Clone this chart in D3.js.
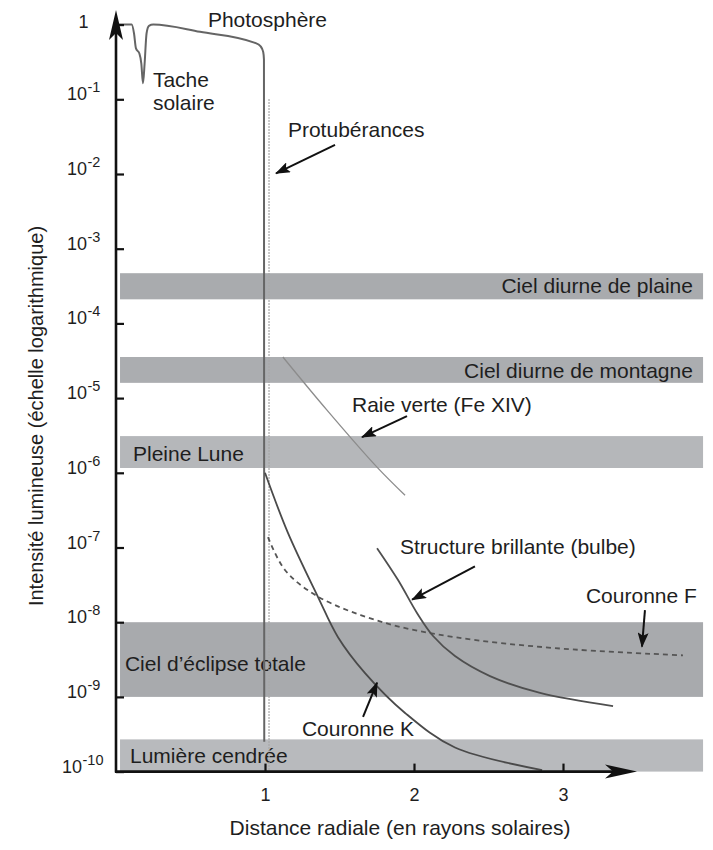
<!DOCTYPE html>
<html>
<head>
<meta charset="utf-8">
<script src="https://cdn.jsdelivr.net/npm/d3@7"></script>
<style>
  html, body { margin: 0; padding: 0; background: #fff; }
  svg { display: block; font-family: "Liberation Sans", Arial, Helvetica, sans-serif; }
</style>
</head>
<body>
<svg id="chart" width="713" height="850"></svg>
<script>
// ---------------- DATA ----------------
const xTickValues = [1, 2, 3];
const yTickExponents = [0, -1, -2, -3, -4, -5, -6, -7, -8, -9, -10];

// Photosphère (with sunspot dip)
const photoR = [0.015, 0.105, 0.121, 0.134, 0.157, 0.170, 0.181, 0.192, 0.205, 0.221, 0.25, 0.564, 0.933, 0.971, 0.988, 0.993, 0.995];
const photoI = [1.0, 1.0, 0.76, 0.48, 0.41, 0.30, 0.164, 0.30, 0.76, 0.96, 1.0, 0.80, 0.57, 0.51, 0.43, 0.34, 2.5e-10];

// Protubérances (dotted vertical)
const protR = [1.027, 1.027];
const protI = [1e-1, 1e-10];

// Couronne K
const coronaKR = [1.0, 1.154, 1.356, 1.49, 1.67, 1.94, 2.275, 2.86];
const coronaKI = [1e-6, 1.57e-7, 2.17e-8, 6.3e-9, 2.1e-9, 6.1e-10, 2.1e-10, 1.05e-10];

// Couronne F (dashed)
const coronaFR = [1.02, 1.134, 1.356, 1.805, 2.275, 2.946, 3.805];
const coronaFI = [1.38e-7, 5e-8, 2.2e-8, 9.8e-9, 6.3e-9, 4.5e-9, 3.6e-9];

// Structure brillante (bulbe)
const bulbeR = [1.752, 1.893, 2.020, 2.128, 2.275, 2.510, 2.846, 3.336];
const bulbeI = [9.8e-8, 3.67e-8, 1.33e-8, 6.53e-9, 3.52e-9, 1.9e-9, 1.13e-9, 7.55e-10];

// Raie verte (Fe XIV)
const raieR = [1.12, 1.416, 1.75, 1.94];
const raieI = [3.55e-5, 6.9e-6, 1.2e-6, 5e-7];

// Sky-brightness bands
const bandNames = ["Ciel diurne de plaine", "Ciel diurne de montagne", "Pleine Lune", "Ciel d\u2019\u00e9clipse totale", "Lumi\u00e8re cendr\u00e9e"];
const bandHigh = [4.7e-4, 3.55e-5, 3.1e-6, 1e-8, 2.7e-10];
const bandLow  = [2.1e-4, 1.6e-5, 1.16e-6, 1e-9, 1e-10];
const bandStartR = 0.027;
const bandEndR = 3.94;

// ---------------- ANNOTATIONS (data coords) ----------------
const bandLabelR = [3.872, 3.872, 0.114, 0.060, 0.094];
const bandLabelI = [Math.pow(10, -3.593), Math.pow(10, -4.731), Math.pow(10, -5.84), Math.pow(10, -8.652), Math.pow(10, -9.885)];
const bandLabelAnchor = ["end", "end", "start", "start", "start"];
const bandShade = ["#a9abae", "#abadb0", "#b5b7ba", "#a8aaad", "#b8babd"];

const labelTexts = ["Photosph\u00e8re", "Tache", "solaire", "Protub\u00e9rances", "Raie verte (Fe XIV)", "Structure brillante (bulbe)", "Couronne F", "Couronne K"];
const labelR = [0.617, 0.248, 0.248, 1.154, 1.584, 1.906, 3.154, 1.248];
const labelI = [Math.pow(10, -0.032), Math.pow(10, -0.835), Math.pow(10, -1.143), Math.pow(10, -1.505), Math.pow(10, -5.186), Math.pow(10, -7.087), Math.pow(10, -7.743), Math.pow(10, -9.523)];

const arrowFromR = [1.47, 1.953, 2.409, 3.55, 1.658];
const arrowFromI = [0.0245, 5.75e-6, 5.6e-8, 1.45e-8, 5.4e-10];
const arrowToR = [1.074, 1.651, 1.987, 3.53, 1.752];
const arrowToI = [0.0102, 3.0e-6, 2.0e-8, 4.7e-9, 1.55e-9];

// ---------------- SCALES ----------------
const svg = d3.select("#chart");
const x = d3.scaleLinear().domain([0, 3.5]).range([116, 637.5]);
const y = d3.scaleLog().domain([1e-10, 1]).range([771.6, 24.6]);

const zip = (a, b) => a.map((v, i) => [v, b[i]]);
const smooth = d3.line().x(d => x(d[0])).y(d => y(d[1])).curve(d3.curveCatmullRom.alpha(0.5));
const mono = d3.line().x(d => x(d[0])).y(d => y(d[1])).curve(d3.curveMonotoneX);
const straight = d3.line().x(d => x(d[0])).y(d => y(d[1]));

const LABEL_FS = 21;

// ---------------- DEFS ----------------
const defs = svg.append("defs");
defs.append("marker")
  .attr("id", "ah")
  .attr("markerUnits", "userSpaceOnUse")
  .attr("markerWidth", 15).attr("markerHeight", 11)
  .attr("refX", 14).attr("refY", 5.5)
  .attr("orient", "auto")
  .append("path").attr("d", "M0,0 L15,5.5 L0,11 L3,5.5 Z").attr("fill", "#111");

// ---------------- BANDS ----------------
const bands = bandNames.map((n, i) => ({ name: n, hi: bandHigh[i], lo: bandLow[i], lr: bandLabelR[i], li: bandLabelI[i], anchor: bandLabelAnchor[i], fill: bandShade[i] }));
svg.append("g").selectAll("rect").data(bands).join("rect")
  .attr("x", x(bandStartR))
  .attr("width", x(bandEndR) - x(bandStartR))
  .attr("y", d => y(d.hi))
  .attr("height", d => y(d.lo) - y(d.hi))
  .attr("fill", d => d.fill);

svg.append("g").selectAll("text").data(bands).join("text")
  .attr("x", d => x(d.lr))
  .attr("y", d => y(d.li))
  .attr("text-anchor", d => d.anchor)
  .attr("font-size", LABEL_FS)
  .attr("fill", "#1e1e1e")
  .text(d => d.name);

// ---------------- CURVES ----------------
const g = svg.append("g").attr("fill", "none");
g.append("path").attr("d", straight(zip(protR, protI)))
  .attr("stroke", "#a8a8a8").attr("stroke-width", 1.6).attr("stroke-dasharray", "1.5,1.5");
g.append("path").attr("d", mono(zip(photoR, photoI)))
  .attr("stroke", "#656565").attr("stroke-width", 2).attr("stroke-linejoin", "round");
g.append("path").attr("d", smooth(zip(raieR, raieI)))
  .attr("stroke", "#8c8c8c").attr("stroke-width", 1.3);
g.append("path").attr("d", smooth(zip(coronaKR, coronaKI)))
  .attr("stroke", "#4a4a4a").attr("stroke-width", 1.8);
g.append("path").attr("d", smooth(zip(coronaFR, coronaFI)))
  .attr("stroke", "#555").attr("stroke-width", 1.8).attr("stroke-dasharray", "5,4");
g.append("path").attr("d", smooth(zip(bulbeR, bulbeI)))
  .attr("stroke", "#4f4f4f").attr("stroke-width", 1.8);

// ---------------- AXES ----------------
const axisY = y(1e-10);
const axisX = x(0);

const xAxis = d3.axisBottom(x).tickValues(xTickValues).tickSizeInner(-8).tickSizeOuter(0).tickPadding(17).tickFormat(d3.format("d"));
const gx = svg.append("g").attr("transform", `translate(0,${axisY})`).call(xAxis);
gx.select(".domain").remove();
gx.selectAll(".tick line").attr("stroke", "#111").attr("stroke-width", 2.2);
gx.selectAll(".tick text").attr("font-size", 18).attr("fill", "#1e1e1e");

const yAxis = d3.axisLeft(y).tickValues(yTickExponents.map(e => Math.pow(10, e))).tickSizeInner(-8).tickSizeOuter(0).tickFormat("");
const gy = svg.append("g").attr("transform", `translate(${axisX},0)`).call(yAxis);
gy.select(".domain").remove();
gy.selectAll(".tick line").attr("stroke", "#111").attr("stroke-width", 2.2);
gy.selectAll(".tick text").remove();

// custom superscript tick labels
const ylab = svg.append("g").attr("font-size", 18).attr("fill", "#1e1e1e");
yTickExponents.forEach(e => {
  const t = ylab.append("text").attr("y", y(Math.pow(10, e)) + (e === 0 ? 3 : 1));
  if (e === 0) {
    t.attr("x", axisX - 32.5).attr("text-anchor", "middle").text("1");
  } else {
    t.append("tspan").text("10");
    t.append("tspan").attr("font-size", 14.5).attr("dy", -8).attr("dx", 0.5).text(String(e));
    const w = t.node().getComputedTextLength();
    const left = axisX - 49;
    const maxRight = axisX - 13;
    t.attr("x", Math.min(left, maxRight - w));
  }
});

// axis lines with arrowheads
const yTop = 10, xEnd = 637;
svg.append("line").attr("x1", axisX).attr("y1", axisY + 1).attr("x2", axisX).attr("y2", yTop + 20)
  .attr("stroke", "#111").attr("stroke-width", 2.6);
svg.append("line").attr("x1", axisX - 1).attr("y1", axisY).attr("x2", xEnd - 20).attr("y2", axisY)
  .attr("stroke", "#111").attr("stroke-width", 2.6);
svg.append("path")
  .attr("d", `M${axisX},${yTop} L${axisX + 7},${yTop + 30} L${axisX},${yTop + 23} L${axisX - 7},${yTop + 30} Z`)
  .attr("fill", "#111");
svg.append("path")
  .attr("d", `M${xEnd},${axisY} L${xEnd - 32},${axisY - 7} L${xEnd - 24},${axisY} L${xEnd - 32},${axisY + 7} Z`)
  .attr("fill", "#111");

// axis titles
svg.append("text").attr("x", 400).attr("y", 835).attr("text-anchor", "middle")
  .attr("font-size", LABEL_FS).attr("fill", "#1e1e1e").text("Distance radiale (en rayons solaires)");
svg.append("text").attr("transform", "translate(43,416) rotate(-90)").attr("text-anchor", "middle")
  .attr("font-size", 20).attr("fill", "#1e1e1e").text("Intensit\u00e9 lumineuse (\u00e9chelle logarithmique)");

// ---------------- LABELS & ARROWS ----------------
svg.append("g").selectAll("text").data(labelTexts.map((t, i) => ({ t, r: labelR[i], v: labelI[i] }))).join("text")
  .attr("x", d => x(d.r)).attr("y", d => y(d.v))
  .attr("font-size", LABEL_FS).attr("fill", "#1e1e1e")
  .text(d => d.t);

svg.append("g").selectAll("line").data(arrowFromR.map((r, i) => ({ r0: r, v0: arrowFromI[i], r1: arrowToR[i], v1: arrowToI[i] }))).join("line")
  .attr("x1", d => x(d.r0)).attr("y1", d => y(d.v0))
  .attr("x2", d => x(d.r1)).attr("y2", d => y(d.v1))
  .attr("stroke", "#111").attr("stroke-width", 2)
  .attr("marker-end", "url(#ah)");
</script>
</body>
</html>
